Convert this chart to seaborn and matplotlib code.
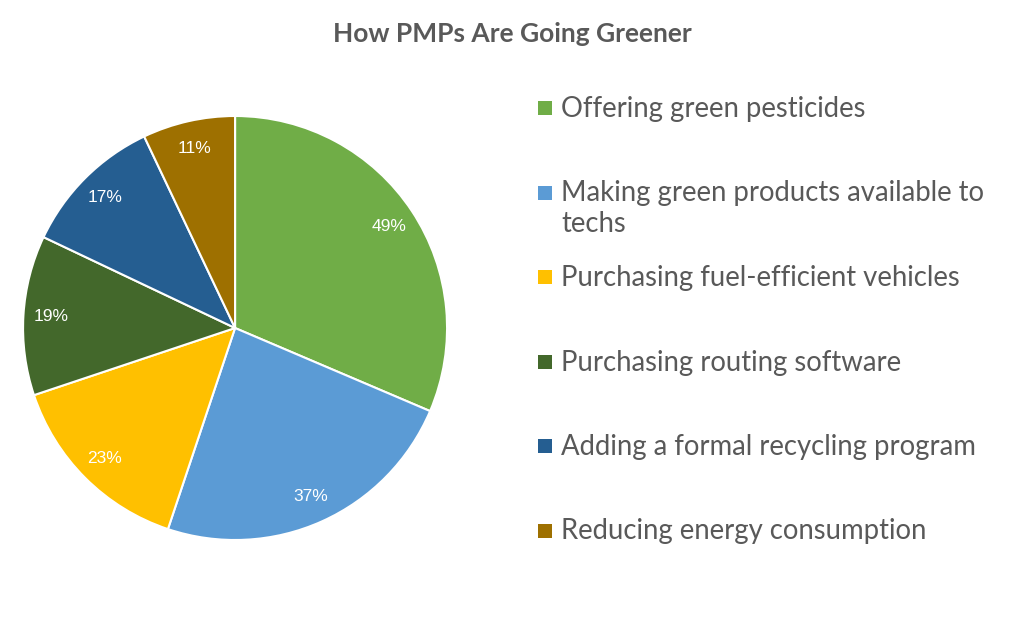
import numpy as np
import pandas as pd
import seaborn as sns
import matplotlib.pyplot as plt
from matplotlib.patches import Rectangle

# =============================================================================
# Data
# =============================================================================
categories = [
    "Offering green pesticides",
    "Making green products available to\ntechs",
    "Purchasing fuel-efficient vehicles",
    "Purchasing routing software",
    "Adding a formal recycling program",
    "Reducing energy consumption",
]
values = [49, 37, 23, 19, 17, 11]
colors = ['#70AD47', '#5B9BD5', '#FFC000', '#43682B', '#255E91', '#9E7000']
title = "How PMPs Are Going Greener"

# =============================================================================
# Plot
# =============================================================================
sns.set_theme(style="white")
plt.rcParams['font.family'] = ['Lato', 'DejaVu Sans']
TEXT_GRAY = '#595959'

fig = plt.figure(figsize=(10.24, 6.18), dpi=100)
ax = fig.add_axes([0.0225, 0.1262, 0.4141, 0.6861])

wedges, texts = ax.pie(
    values, colors=colors, startangle=90, counterclock=False,
    labels=[f"{v}%" for v in values], labeldistance=0.87,
    wedgeprops=dict(edgecolor='white', linewidth=1.5),
    textprops=dict(color='white', fontsize=12.5, family='Liberation Sans'),
)
for t in texts:
    t.set_horizontalalignment('center')
    t.set_verticalalignment('center')
ax.set_xlim(-1, 1)
ax.set_ylim(-1, 1)
ax.set_aspect('equal')

fig.text(0.5, 1 - 42 / 618, title, ha='center', va='baseline',
         fontsize=19, fontweight='bold', color=TEXT_GRAY)

# legend, one row per slice
W, H = 1024, 618
top_y = 108
step = 84.5
line_h = 31
for i, (lab, col) in enumerate(zip(categories, colors)):
    yc = top_y + i * step
    fig.add_artist(Rectangle((538 / W, 1 - (yc + 7) / H), 14 / W, 14 / H,
                             transform=fig.transFigure, facecolor=col,
                             edgecolor='none'))
    for j, line in enumerate(lab.split('\n')):
        fig.text(561 / W, 1 - (yc + 9 + j * line_h) / H, line, ha='left',
                 va='baseline', fontsize=19.8, color=TEXT_GRAY)

plt.savefig('out.png', dpi=100)
plt.close()
